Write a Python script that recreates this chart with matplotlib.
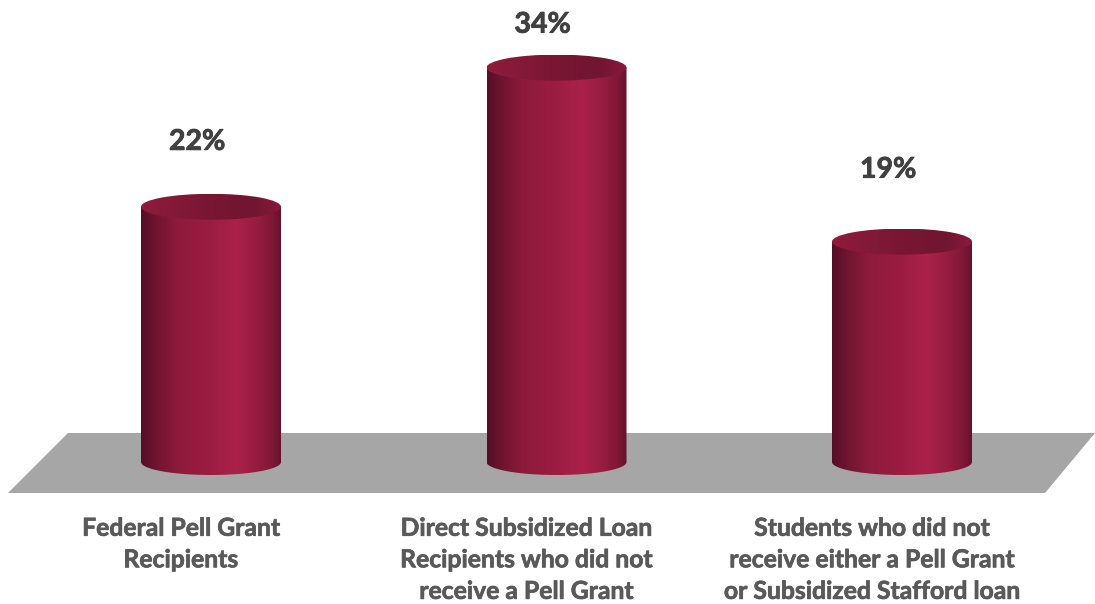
import numpy as np
import matplotlib
matplotlib.use('Agg')
import matplotlib.pyplot as plt
import matplotlib.patheffects as pe
from matplotlib.colors import LinearSegmentedColormap
from matplotlib.patches import Ellipse, PathPatch, Polygon
from matplotlib.path import Path

categories = ['Federal Pell Grant\nRecipients',
              'Direct Subsidized Loan\nRecipients who did not\nreceive a Pell Grant',
              'Students who did not\nreceive either a Pell Grant\nor Subsidized Stafford loan']
values = [22, 34, 19]
value_labels = ['22%', '34%', '19%']

W, H = 1095, 604
BAR_W = 140 / 345.5      # cylinder width in category units
RY = 13 / 11.6           # half height of the end ellipses in value units

plt.rcParams['font.family'] = ['Lato', 'DejaVu Sans']

side_cmap = LinearSegmentedColormap.from_list('side', [
    (0.0, '#540f27'), (0.1, '#6e1431'), (0.25, '#8c1a3b'), (0.5, '#9c1d42'),
    (0.68, '#ab214a'), (0.82, '#981c41'), (0.93, '#821838'), (1.0, '#66122e')])
top_cmap = LinearSegmentedColormap.from_list('top', [
    (0.0, '#901b3d'), (0.45, '#7a1734'), (0.8, '#701532'), (1.0, '#8a193c')])

fig = plt.figure(figsize=(W / 100, H / 100), dpi=100)
ax = fig.add_axes([0, 0, 1, 1])


def px(x, y):
    # category 0 sits at x=211, spacing 345.5 px; value 0 at y=462, 11.6 px per unit
    return (x - 211) / 345.5, (462 - y) / 11.6


ax.add_patch(Polygon([px(8, 493), px(68, 433), px(1095, 433), px(1045, 493)],
                     closed=True, fc='#a6a6a6', ec='none', zorder=1))

grad = np.linspace(0, 1, 256).reshape(1, -1)
t = np.linspace(0, np.pi, 80)
value_gap = [5.6, 3.7, 6.2]

for i, v in enumerate(values):
    x0, x1 = i - BAR_W / 2, i + BAR_W / 2
    rx = BAR_W / 2

    # side of the cylinder: straight edges and a rounded bottom
    bx = i - rx * np.cos(t)
    by = -RY * np.sin(t)
    verts = list(zip(bx, by)) + [(x1, v), (x0, v), (x0, 0)]
    codes = [Path.MOVETO] + [Path.LINETO] * (len(verts) - 2) + [Path.CLOSEPOLY]
    side = PathPatch(Path(verts, codes), fc='none', ec='none', zorder=2)
    ax.add_patch(side)
    im = ax.imshow(grad, cmap=side_cmap, aspect='auto', extent=[x0, x1, -RY, v],
                   interpolation='bilinear', zorder=2)
    im.set_clip_path(side)

    # top of the cylinder
    top = Ellipse((i, v), BAR_W, 2 * RY, fc='none', ec='none', zorder=3)
    ax.add_patch(top)
    im = ax.imshow(grad, cmap=top_cmap, aspect='auto', extent=[x0, x1, v - RY, v + RY],
                   interpolation='bilinear', zorder=3)
    im.set_clip_path(top)

    # thin stroke because Lato bold is lighter than the original face
    ax.text(i - 0.04, v + value_gap[i], value_labels[i], ha='center', va='center',
            fontsize=20.5, fontweight='bold', color='#404040',
            path_effects=[pe.withStroke(linewidth=0.6, foreground='#404040')])
    ax.text(i - 0.087, -4.72, categories[i], ha='center', va='top',
            fontsize=17.8, fontweight='bold', color='#595959', linespacing=1.45,
            path_effects=[pe.withStroke(linewidth=0.5, foreground='#595959')])

# imshow resets the limits, so set them last
ax.set_xlim(-211 / 345.5, (W - 211) / 345.5)
ax.set_ylim(-(H - 462) / 11.6, 462 / 11.6)
ax.axis('off')

fig.savefig('out.png', dpi=100)
